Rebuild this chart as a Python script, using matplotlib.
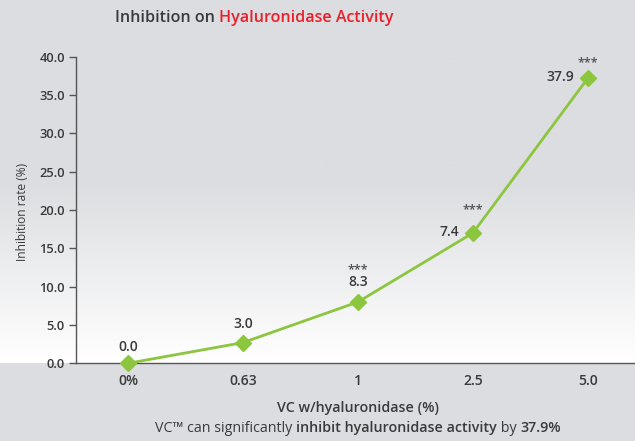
import numpy as np
import matplotlib
matplotlib.use("Agg")
import matplotlib.pyplot as plt
from matplotlib.colors import LinearSegmentedColormap

# data
categories = ["0%", "0.63", "1", "2.5", "5.0"]
inhibition = [0.0, 2.7, 8.0, 17.0, 37.2]
value_labels = ["0.0", "3.0", "8.3", "7.4", "37.9"]
significance = ["", "", "***", "***", "***"]

plt.rcParams["font.family"] = ["Open Sans", "DejaVu Sans"]

TEXT = "#3a3a3c"
GREEN = "#8cc63f"
RED = "#e8202a"
GREY = "#dcdde0"
STAR = "#505052"

fig = plt.figure(figsize=(6.35, 4.41), dpi=100, facecolor=GREY)

# gradient background behind the plot (grey at top, white at bottom)
bg = fig.add_axes([0, 0.1762, 1, 0.8238], zorder=0)
cmap = LinearSegmentedColormap.from_list("bg", [GREY, GREY, "#ffffff"], N=256)
grad = np.linspace(0, 1, 256).reshape(-1, 1)
bg.imshow(grad, aspect="auto", cmap=cmap, extent=[0, 1, 0, 1])
bg.set_axis_off()

ax = fig.add_axes([0.1197, 0.1762, 0.8803, 0.6952], zorder=1)
ax.patch.set_alpha(0)

x = np.arange(len(categories))
ax.plot(x, inhibition, color=GREEN, lw=2.0, marker="D", ms=8,
        markeredgecolor=GREEN, zorder=3, clip_on=False)

ax.set_xlim(-0.452, 4.41)
ax.set_ylim(0, 40)
ax.set_yticks(np.arange(0, 40.1, 5))
ax.set_yticklabels([f"{v:.1f}" for v in np.arange(0, 40.1, 5)])
ax.set_xticks(x)
ax.set_xticklabels(categories)

for s in ["top", "right"]:
    ax.spines[s].set_visible(False)
for s in ["left", "bottom"]:
    ax.spines[s].set_color("#555555")
    ax.spines[s].set_linewidth(1.0)
ax.tick_params(axis="y", length=5, width=1.0, color="#555555", labelsize=9.3,
               labelcolor=TEXT, pad=3)
ax.tick_params(axis="x", length=0, labelsize=10, labelcolor=TEXT, pad=8)
for lab in ax.get_yticklabels() + ax.get_xticklabels():
    lab.set_fontweight("semibold")

ax.set_ylabel("Inhibition rate (%)", fontsize=8.6, color=TEXT, va="center")
ax.yaxis.set_label_coords((22 - 76) / 559, (363.3 - 212) / 306.6)
ax.set_xlabel("VC w/hyaluronidase (%)", fontsize=10.3, color=TEXT,
              fontweight="semibold", va="center")
ax.xaxis.set_label_coords((358 - 76) / 559, (363.3 - 408) / 306.6)

# value labels: first three above the point, last two to the left
label_up = [12, 13.7, 14.4]
star_up = [0, 0, 23, 16.5, 11]
for i, (v, lab, sig) in enumerate(zip(inhibition, value_labels, significance)):
    if i < 3:
        ax.annotate(lab, (i, v), xytext=(0, label_up[i]),
                    textcoords="offset points", ha="center", va="center",
                    fontsize=10, color=TEXT, fontweight="semibold")
    else:
        ax.annotate(lab, (i, v), xytext=(-10, 0.5), textcoords="offset points",
                    ha="right", va="center", fontsize=10, color=TEXT,
                    fontweight="semibold")
    if sig:
        ax.annotate(sig, (i, v), xytext=(0, star_up[i]),
                    textcoords="offset points", ha="center", va="center",
                    fontsize=9, color=STAR, fontweight="semibold")

# two-colour title
t1 = fig.text(115 / 635, 1 - 18 / 441, "Inhibition on ", fontsize=11.6,
              color=TEXT, fontweight="semibold", va="center", ha="left")
ax.annotate("Hyaluronidase Activity", xy=(1, 0), xycoords=t1, va="bottom",
            ha="left", fontsize=11.6, color=RED, fontweight="semibold",
            annotation_clip=False)

# caption with bold parts, centred under the x axis label
parts = [("VC\u2122 can significantly ", "normal"),
         ("inhibit hyaluronidase activity", "semibold"),
         (" by ", "normal"),
         ("37.9%", "semibold")]
fig.canvas.draw()
renderer = fig.canvas.get_renderer()
widths = []
for txt, w in parts:
    tmp = fig.text(0, 0, txt, fontsize=10.3, fontweight=w)
    widths.append(tmp.get_window_extent(renderer).width)
    tmp.remove()
total = sum(widths)
cx = 358
xpos = cx - total / 2
for (txt, w), wd in zip(parts, widths):
    fig.text(xpos / 635, 1 - 428 / 441, txt, fontsize=10.3, fontweight=w,
             color=TEXT, va="center", ha="left")
    xpos += wd

fig.savefig("out.png", dpi=100, facecolor=GREY)
